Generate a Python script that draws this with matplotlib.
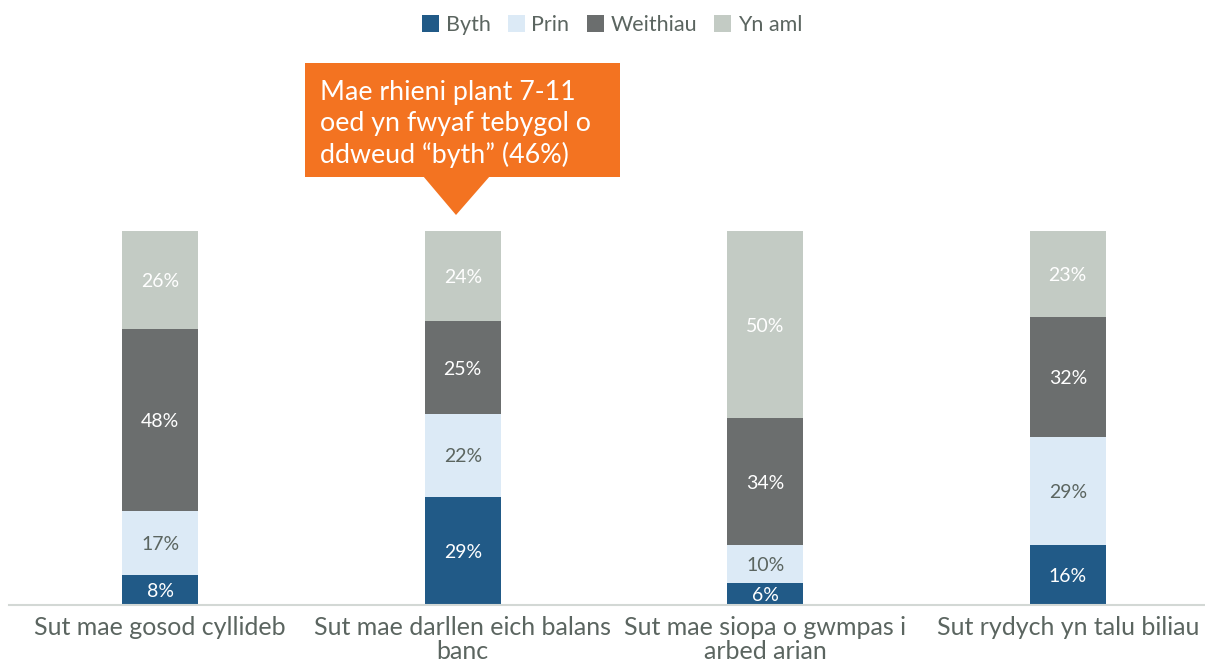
import matplotlib
matplotlib.use("Agg")
import matplotlib.pyplot as plt
from matplotlib.patches import Patch, Polygon, Rectangle
import numpy as np

categories = ["Sut mae gosod cyllideb", "Sut mae darllen eich balans\nbanc",
              "Sut mae siopa o gwmpas i\narbed arian", "Sut rydych yn talu biliau"]
series_names = ["Byth", "Prin", "Weithiau", "Yn aml"]
byth = [8, 29, 6, 16]
prin = [17, 22, 10, 29]
weithiau = [48, 25, 34, 32]
yn_aml = [26, 24, 50, 23]
annotation_text = "Mae rhieni plant 7-11\noed yn fwyaf tebygol o\nddweud \u201cbyth\u201d (46%)"

colors = ["#215A87", "#DCEAF6", "#6B6E6E", "#C3CBC4"]
label_colors = ["white", "#5B6560", "white", "white"]
text_color = "#5B6560"

plt.rcParams['font.family'] = ['Lato', 'DejaVu Sans']

W, H = 1205, 666
fig = plt.figure(figsize=(W / 100, H / 100), dpi=100)

def fx(px):
    return px / W

def fy(py):
    return 1 - py / H

ax = fig.add_axes([fx(9), fy(605), fx(1219) - fx(9), fy(231) - fy(605)])

data = np.array([byth, prin, weithiau, yn_aml], dtype=float)
totals = data.sum(axis=0)
norm = data / totals * 100
x = np.arange(len(categories))
bottom = np.zeros(len(categories))
for i, name in enumerate(series_names):
    ax.bar(x, norm[i], width=0.251, bottom=bottom, color=colors[i], label=name)
    for j in range(len(categories)):
        ax.text(x[j], bottom[j] + norm[i][j] / 2, f"{int(data[i][j])}%",
                ha="center", va="center_baseline", fontsize=14, color=label_colors[i])
    bottom += norm[i]

ax.set_xlim(-0.5, 3.5)
ax.set_ylim(0, 100)
ax.set_yticks([])
ax.set_xticks(x)
ax.set_xticklabels(categories, fontsize=18, color=text_color, linespacing=1.05)
ax.tick_params(axis="x", length=0, pad=8)
for s in ["top", "right", "left"]:
    ax.spines[s].set_visible(False)
ax.spines["bottom"].set_color("#D3D8D5")
ax.spines["bottom"].set_linewidth(1.5)

# legend
handles = [Patch(facecolor=c, edgecolor="none") for c in colors]
fig.legend(handles, series_names, loc="center", bbox_to_anchor=(fx(612), fy(25)),
           ncol=4, frameon=False, fontsize=15.5, handlelength=0.8, handleheight=0.8,
           handletextpad=0.3, columnspacing=0.8, labelcolor=text_color)

# annotation callout
orange = "#F37321"
fig.patches.append(Rectangle((fx(305), fy(177)), fx(620) - fx(305), fy(63) - fy(177),
                             transform=fig.transFigure, facecolor=orange, edgecolor="none"))
fig.patches.append(Polygon([(fx(423), fy(176)), (fx(490), fy(176)), (fx(456), fy(215))],
                           closed=True, transform=fig.transFigure, facecolor=orange, edgecolor="none"))
fig.text(fx(320), fy(124), annotation_text, ha="left", va="center", fontsize=19.3,
         color="white", linespacing=1.3)

fig.savefig("out.png", dpi=100)
